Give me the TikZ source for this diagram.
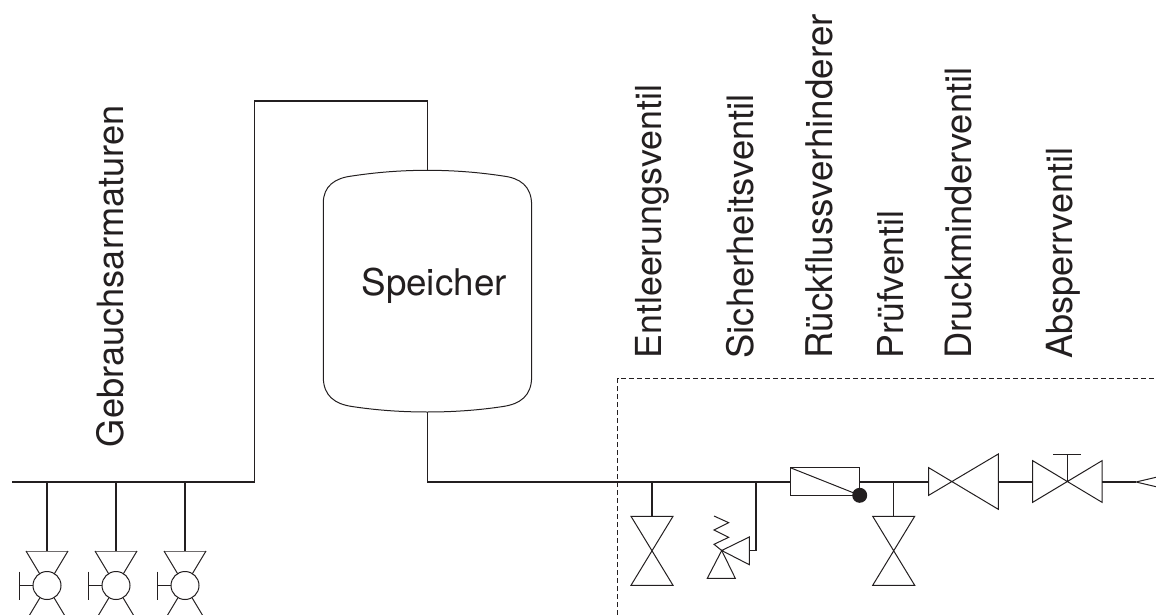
\documentclass[tikz,border=0pt]{standalone}
\usepackage{fontspec}
\usetikzlibrary{calc}
\setmainfont{TeX Gyre Heros}
\definecolor{ink}{HTML}{231F20}
\tikzset{
  x=1pt,y=-1pt,
  pipe/.style={draw=ink,line width=1.5pt},
  thin line/.style={draw=ink,line width=1pt,line join=miter},
  vlabel/.style={inner sep=0pt,outer sep=0pt,text=ink,font=\fontsize{#1}{40}\selectfont,rotate=90,anchor=base west},
  hlabel/.style={inner sep=0pt,outer sep=0pt,text=ink,font=\fontsize{36.8}{40}\selectfont,anchor=base west},
  blackdot/.style={circle,fill=ink,draw=none,minimum size=15pt,inner sep=0pt},
  bowtie/.pic={
    \draw[thin line] (-21,-34.5) -- (21,34.5) -- (-21,34.5) -- (21,-34.5) -- cycle;
  },
  handvalve/.pic={
    \draw[thin line] (0,0) -- (-21,0) -- (21,0) -- cycle;
    \draw[thin line] (-21,0) -- (0,35) -- (21,0);
    \draw[thin line] (0,35) -- (-21,70) (0,35) -- (21,70);
    \node[circle,draw=ink,line width=1pt,fill=white,minimum size=28pt,inner sep=0pt] at (0,34.5) {};
    \draw[thin line] (-14,34.5) -- (-28,34.5) (-28,20.5) -- (-28,48.5);
  }
}
\begin{document}
\begin{tikzpicture}
\useasboundingbox (0,0) rectangle (1156,615);
\clip (0,0) rectangle (1156,615);
% junctions
\coordinate (mainL) at (12,482);
\coordinate (j1) at (47,482);
\coordinate (j2) at (116,482);
\coordinate (j3) at (185,482);
\coordinate (riserB) at (254.3,482);
\coordinate (riserT) at (254.3,101);
\coordinate (tankT) at (427.3,170.3);
\coordinate (tankTT) at (427.3,101);
\coordinate (tankB) at (427.3,412);
\coordinate (tankBB) at (427.3,482);
\coordinate (j4) at (652,482);
\coordinate (j5) at (756,482);
\coordinate (rfL) at (790.3,482);
\coordinate (rfR) at (859.7,482);
\coordinate (j6) at (893.7,482);
\coordinate (drL) at (928.7,482);
\coordinate (drR) at (998.3,482);
\coordinate (spL) at (1032.7,482);
\coordinate (spC) at (1067.3,482);
\coordinate (spR) at (1102,482);
\coordinate (inlet) at (1136,482);
\coordinate (v1) at (47,551);
\coordinate (v2) at (116,551);
\coordinate (v3) at (185,551);
\coordinate (v4) at (652,516.3);
\coordinate (v5) at (893.7,516.3);
\coordinate (sv) at (749.3,550.5);
\coordinate (svj) at (756,550.5);
\coordinate (apex) at (721.7,550.5);
% dashed boundary
\draw[draw=ink,line width=0.8pt,dash pattern=on 5.2pt off 2.8pt] (617.5,615) -- (617.5,378.3) -- (1156,378.3);
% pipes
\draw[pipe] (mainL) -- (j1) -- (j2) -- (j3) -- (riserB) -- (riserT) -- (tankTT) -- (tankT);
\draw[pipe] (tankB) -- (tankBB) -- (j4) -- (j5) -- (rfL);
\draw[pipe] (rfR) -- (j6) -- (drL);
\draw[pipe] (drR) -- (spL);
\draw[pipe] (spR) -- (inlet);
\draw[pipe] (j1) -- (v1);
\draw[pipe] (j2) -- (v2);
\draw[pipe] (j3) -- (v3);
\draw[pipe] (j4) -- (v4);
\draw[pipe] (j6) -- (v5);
\draw[pipe,line join=miter] (j5) -- (svj) -- (sv);
% tap valves
\pic at (v1) {handvalve};
\pic at (v2) {handvalve};
\pic at (v3) {handvalve};
% bowtie valves
\pic at ($(v4)+(0,34.5)$) {bowtie};
\pic at ($(v5)+(0,34.5)$) {bowtie};
% tank
\draw[thin line] (323.3,203)
  .. controls (323.3,186) and (335,178) .. (352,176)
  .. controls (375,172.5) and (400,170.3) .. (tankT)
  .. controls (455,170.3) and (480,172.5) .. (503,176)
  .. controls (520,178) and (531.6,186) .. (531.6,205)
  -- (531.6,377)
  .. controls (531.6,396) and (520,404) .. (503,406.5)
  .. controls (480,410) and (455,412) .. (tankB)
  .. controls (400,412) and (375,410) .. (352,406.5)
  .. controls (335,404) and (323.3,396) .. (323.3,377)
  -- cycle;
% safety valve
\draw[thin line] (apex) -- (749.3,537) -- (749.3,564.7) -- cycle;
\draw[thin line] (apex) -- (735.3,578.3) -- (707.3,578.3) -- cycle;
\draw[thin line] (714,516) -- (728.7,522.7) -- (714,530) -- (728.7,537.3) -- (714,544.3) -- (apex);
% backflow preventer
\draw[thin line] (790.3,467.7) rectangle (859.7,495.3);
\draw[thin line] (790.3,467.7) -- (859.7,495.3);
\node[blackdot] (dot) at (859.7,495.3) {};
% pressure reducer
\draw[thin line] (928.7,467.7) -- (998.3,509.3) -- (998.3,454) -- (928.7,495.3) -- cycle;
% shut-off valve
\draw[thin line] (1032.7,460.7) -- (1102,502.3) -- (1102,460.7) -- (1032.7,502.3) -- cycle;
\draw[thin line] (spC) -- (1067.3,454) (1053.3,454) -- (1081.3,454);
% inlet
\draw[thin line] (1156,477.3) -- (inlet) -- (1156,486.7);
% labels
\node[vlabel=36.2] (gebrauch) at (123.5,447) {Gebrauchsarmaturen};
\node[hlabel] (speicher) at (361.5,295.5) {Speicher};
\node[vlabel=35.8] (entl) at (661.7,358.5) {Entleerungsventil};
\node[vlabel=36.4] (sich) at (753.3,358.5) {Sicherheitsventil};
\node[vlabel=36.8] (rueck) at (832.7,358.5) {Rückflussverhinderer};
\node[vlabel=35.7] (pruef) at (903.3,358.5) {Prüfventil};
\node[vlabel=36.3] (druck) at (971,358.5) {Druckminderventil};
\node[vlabel=36] (abs) at (1072.3,358.3) {Absperrventil};
\end{tikzpicture}
\end{document}
